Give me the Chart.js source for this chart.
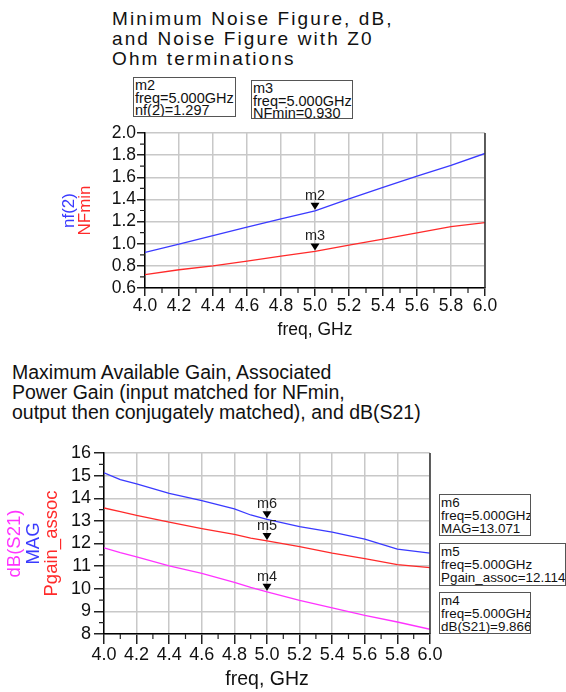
<!DOCTYPE html>
<html>
<head>
<meta charset="utf-8">
<script src="https://cdn.jsdelivr.net/npm/chart.js@4.4.1/dist/chart.umd.min.js"></script>
<style>
body { margin:0; width:566px; height:692px; background:#fff; position:relative; overflow:hidden; font-family:"Liberation Sans", Arial, sans-serif; color:#111; }
.title { position:absolute; white-space:nowrap; }
#title1 { left:112px; top:9px; font-size:19px; line-height:20px; letter-spacing:2.1px; }
#title2 { left:12px; top:362px; font-size:19.5px; line-height:20px; }
.mbox { position:absolute; border:1.5px solid #555; font-size:14.5px; line-height:12.6px; padding:1px; background:#fff; white-space:nowrap; box-sizing:border-box; overflow:hidden; }
.mbox.low { font-size:13.4px; line-height:13.2px; padding:1px 0 1px 1px; }
canvas { position:absolute; left:0; }
</style>
</head>
<body>
<div class="title" id="title1">Minimum Noise Figure, dB,<br>and Noise Figure with Z0<br>Ohm terminations</div>
<div class="title" id="title2">Maximum Available Gain, Associated<br>Power Gain (input matched for NFmin,<br>output then conjugately matched), and dB(S21)</div>
<div class="mbox" id="box_m2" style="left:133px;top:77px;width:103px;height:40px;"></div>
<div class="mbox" id="box_m3" style="left:251px;top:80px;width:102px;height:39px;"></div>
<div class="mbox low" id="box_m6" style="left:439px;top:494px;width:92px;height:42px;"></div>
<div class="mbox low" id="box_m5" style="left:439px;top:543px;width:127px;height:43px;"></div>
<div class="mbox low" id="box_m4" style="left:439px;top:592px;width:92px;height:42px;"></div>
<canvas id="noiseChart" width="566" height="345" style="top:0;"></canvas>
<canvas id="gainChart" width="566" height="347" style="top:345px;"></canvas>
<script>
// noise figure chart
var freqNoise = [4.0, 4.2, 4.4, 4.6, 4.8, 5.0, 5.2, 5.4, 5.6, 5.8, 6.0];
var nf2 = [0.921, 0.996, 1.074, 1.149, 1.224, 1.297, 1.404, 1.509, 1.611, 1.707, 1.815];
var nfmin = [0.720, 0.765, 0.800, 0.843, 0.888, 0.930, 0.987, 1.041, 1.098, 1.155, 1.191];
var noiseTicksY = [0.6, 0.8, 1.0, 1.2, 1.4, 1.6, 1.8, 2.0];

// gain chart
var freqGain = [4.0, 4.1, 4.2, 4.4, 4.6, 4.8, 4.9, 5.0, 5.2, 5.4, 5.6, 5.8, 6.0];
var mag = [15.12, 14.82, 14.63, 14.22, 13.90, 13.53, 13.26, 13.071, 12.75, 12.50, 12.19, 11.75, 11.57];
var pgainAssoc = [13.57, 13.41, 13.24, 12.94, 12.66, 12.40, 12.24, 12.114, 11.86, 11.57, 11.33, 11.07, 10.93];
var dbS21 = [11.81, 11.60, 11.41, 11.01, 10.68, 10.28, 10.06, 9.866, 9.49, 9.15, 8.82, 8.53, 8.21];
var gainTicksY = [8, 9, 10, 11, 12, 13, 14, 15, 16];

var freqTicks = [4.0, 4.2, 4.4, 4.6, 4.8, 5.0, 5.2, 5.4, 5.6, 5.8, 6.0];

var blue = '#3a3aff';
var red = '#ff2a2a';
var magenta = '#ff33ff';

function pts(xs, ys) {
    return xs.map(function (x, i) { return { x: x, y: ys[i] }; });
}

function fillBox(id, name, label, value) {
    document.getElementById(id).innerHTML = name + '<br>freq=5.000GHz<br>' + label + '=' + value.toFixed(3);
}
fillBox('box_m2', 'm2', 'nf(2)', nf2[freqNoise.indexOf(5.0)]);
fillBox('box_m3', 'm3', 'NFmin', nfmin[freqNoise.indexOf(5.0)]);
fillBox('box_m6', 'm6', 'MAG', mag[freqGain.indexOf(5.0)]);
fillBox('box_m5', 'm5', 'Pgain_assoc', pgainAssoc[freqGain.indexOf(5.0)]);
fillBox('box_m4', 'm4', 'dB(S21)', dbS21[freqGain.indexOf(5.0)]);

// draws minor ticks, right frame line, rotated y titles and the marker triangles
var adsPlugin = {
    id: 'ads',
    afterDraw: function (chart) {
        var o = chart.options.plugins.ads;
        var ctx = chart.ctx;
        var a = chart.chartArea;
        var xs = chart.scales.x, ys = chart.scales.y;
        ctx.save();

        ctx.strokeStyle = '#222';
        ctx.lineWidth = 1.2;
        ctx.beginPath();
        for (var v = xs.min + 0.1; v < xs.max; v += 0.2) {
            var px = xs.getPixelForValue(v);
            ctx.moveTo(px, a.bottom);
            ctx.lineTo(px, a.bottom + 5);
        }
        for (var w = ys.min + o.minorY; w < ys.max; w += o.minorY * 2) {
            var py = ys.getPixelForValue(w);
            ctx.moveTo(a.left, py);
            ctx.lineTo(a.left - 5, py);
        }
        ctx.stroke();

        ctx.strokeStyle = '#333';
        ctx.lineWidth = 1.5;
        ctx.beginPath();
        ctx.moveTo(a.right, a.top);
        ctx.lineTo(a.right, a.bottom);
        ctx.stroke();

        var cy = (a.top + a.bottom) / 2;
        ctx.font = o.titleFont;
        ctx.textAlign = 'center';
        ctx.textBaseline = 'middle';
        o.yTitles.forEach(function (t) {
            ctx.save();
            ctx.translate(t.x, cy);
            ctx.rotate(-Math.PI / 2);
            ctx.fillStyle = t.color;
            ctx.fillText(t.text, 0, 0);
            ctx.restore();
        });

        ctx.font = o.markerFont;
        ctx.textBaseline = 'alphabetic';
        o.markers.forEach(function (m) {
            var p = chart.getDatasetMeta(m.ds).data[m.idx];
            ctx.fillStyle = '#000';
            ctx.beginPath();
            ctx.moveTo(p.x, p.y - 1);
            ctx.lineTo(p.x - 4.5, p.y - 8);
            ctx.lineTo(p.x + 4.5, p.y - 8);
            ctx.closePath();
            ctx.fill();
            ctx.fillStyle = '#222';
            ctx.fillText(m.label, p.x, p.y - 11);
        });
        ctx.restore();
    }
};

function axisOptions(cfg) {
    return {
        x: {
            type: 'linear',
            min: 4.0,
            max: 6.0,
            afterFit: function (s) { s.height = cfg.xHeight; },
            afterBuildTicks: function (s) { s.ticks = freqTicks.map(function (v) { return { value: v }; }); },
            ticks: {
                color: '#111',
                font: { family: 'Liberation Sans', size: cfg.tickSize },
                padding: cfg.xPad,
                maxRotation: 0,
                autoSkip: false,
                callback: function (v) { return Number(v).toFixed(1); }
            },
            grid: { color: '#c8c8c8', lineWidth: 1.5, tickColor: '#222', tickLength: cfg.tickLen },
            border: { color: '#000', width: 1.5 },
            title: {
                display: true,
                text: 'freq, GHz',
                color: '#111',
                font: { family: 'Liberation Sans', size: cfg.titleSize },
                padding: { top: 0, bottom: cfg.titlePad }
            }
        },
        y: {
            type: 'linear',
            min: cfg.yTicks[0],
            max: cfg.yTicks[cfg.yTicks.length - 1],
            afterFit: function (s) { s.width = cfg.yWidth; },
            afterBuildTicks: function (s) { s.ticks = cfg.yTicks.map(function (v) { return { value: v }; }); },
            ticks: {
                color: '#111',
                font: { family: 'Liberation Sans', size: cfg.tickSize },
                padding: cfg.yPad,
                autoSkip: false,
                callback: function (v) { return cfg.yFmt(v); }
            },
            grid: { color: '#c8c8c8', lineWidth: 1.5, tickColor: '#222', tickLength: cfg.tickLen },
            border: { color: '#000', width: 1.5 }
        }
    };
}

new Chart(document.getElementById('noiseChart'), {
    type: 'line',
    data: {
        datasets: [
            { label: 'nf(2)', data: pts(freqNoise, nf2), borderColor: blue, borderWidth: 1.3, pointRadius: 0, fill: false },
            { label: 'NFmin', data: pts(freqNoise, nfmin), borderColor: red, borderWidth: 1.3, pointRadius: 0, fill: false }
        ]
    },
    options: {
        responsive: false,
        animation: false,
        layout: { padding: { left: 0, right: 81, top: 133, bottom: 0 } },
        scales: axisOptions({
            xHeight: 57, yWidth: 145, tickSize: 17.5, titleSize: 17.5, titlePad: 4, tickLen: 8, xPad: 0, yPad: 1,
            yTicks: noiseTicksY,
            yFmt: function (v) { return Number(v).toFixed(1); }
        }),
        plugins: {
            legend: { display: false },
            tooltip: { enabled: false },
            ads: {
                minorY: 0.1,
                titleFont: '17px "Liberation Sans"',
                markerFont: '14.5px "Liberation Sans"',
                yTitles: [
                    { text: 'nf(2)', color: blue, x: 69 },
                    { text: 'NFmin', color: red, x: 85 }
                ],
                markers: [
                    { ds: 0, idx: 5, label: 'm2' },
                    { ds: 1, idx: 5, label: 'm3' }
                ]
            }
        }
    },
    plugins: [adsPlugin]
});

new Chart(document.getElementById('gainChart'), {
    type: 'line',
    data: {
        datasets: [
            { label: 'MAG', data: pts(freqGain, mag), borderColor: blue, borderWidth: 1.3, pointRadius: 0, fill: false },
            { label: 'Pgain_assoc', data: pts(freqGain, pgainAssoc), borderColor: red, borderWidth: 1.3, pointRadius: 0, fill: false },
            { label: 'dB(S21)', data: pts(freqGain, dbS21), borderColor: magenta, borderWidth: 1.3, pointRadius: 0, fill: false }
        ]
    },
    options: {
        responsive: false,
        animation: false,
        layout: { padding: { left: 0, right: 136, top: 108, bottom: 0 } },
        scales: axisOptions({
            xHeight: 58, yWidth: 104, tickSize: 18, titleSize: 19.5, titlePad: 1, tickLen: 10, xPad: 0, yPad: 3,
            yTicks: gainTicksY,
            yFmt: function (v) { return String(v); }
        }),
        plugins: {
            legend: { display: false },
            tooltip: { enabled: false },
            ads: {
                minorY: 0.5,
                titleFont: '18.5px "Liberation Sans"',
                markerFont: '14.5px "Liberation Sans"',
                yTitles: [
                    { text: 'dB(S21)', color: magenta, x: 15 },
                    { text: 'MAG', color: blue, x: 34 },
                    { text: 'Pgain_assoc', color: red, x: 52 }
                ],
                markers: [
                    { ds: 0, idx: 7, label: 'm6' },
                    { ds: 1, idx: 7, label: 'm5' },
                    { ds: 2, idx: 7, label: 'm4' }
                ]
            }
        }
    },
    plugins: [adsPlugin]
});
</script>
</body>
</html>
